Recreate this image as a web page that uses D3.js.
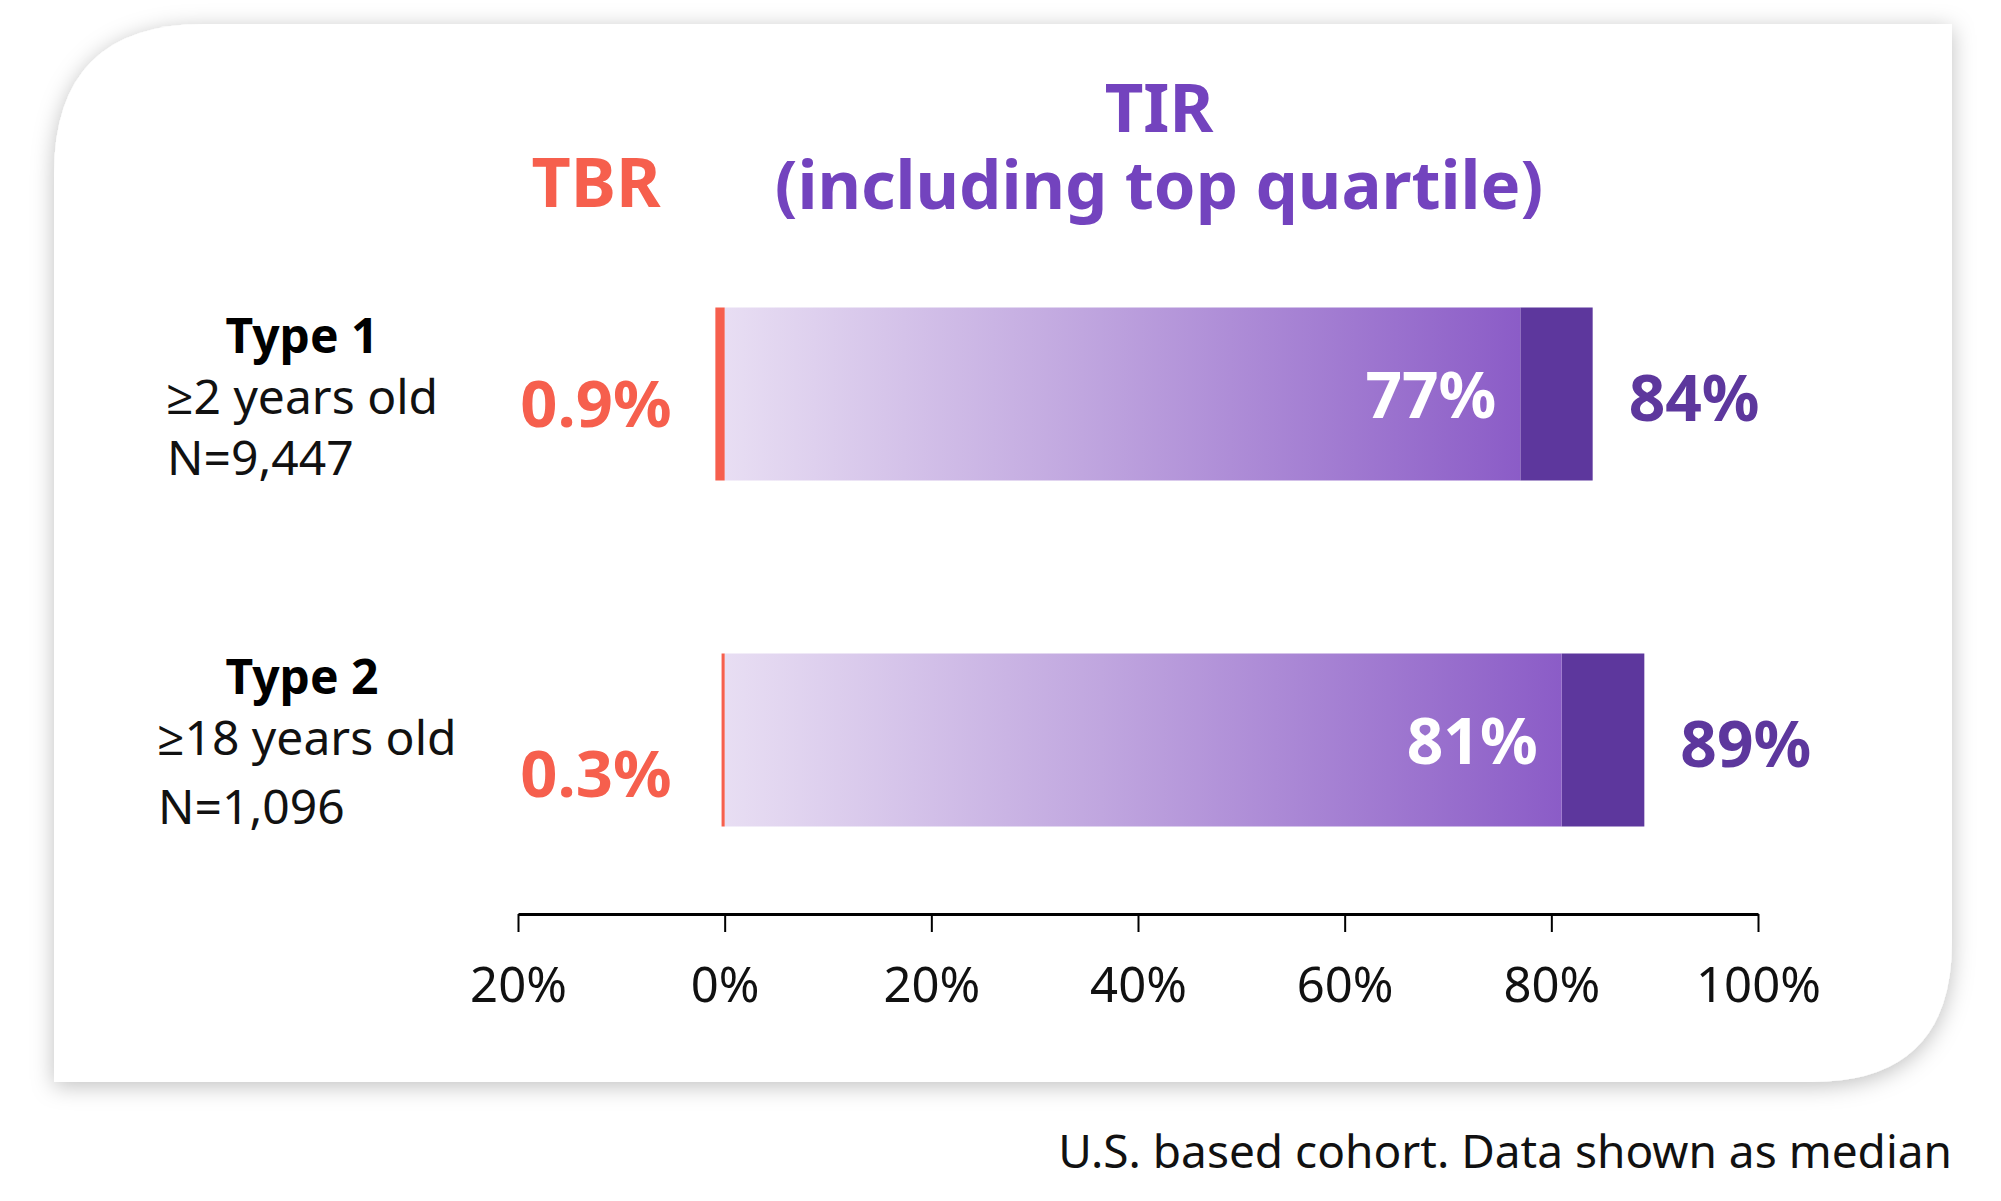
<!DOCTYPE html>
<html>
<head>
<meta charset="utf-8">
<script src="https://cdn.jsdelivr.net/npm/d3@7"></script>
<style>
  html, body { margin: 0; padding: 0; background: #fff; }
  svg { display: block; font-family: "Noto Sans", "Open Sans", sans-serif; }
</style>
</head>
<body>
<div class="graph-container"></div>
<script>
// DATA
const groups = ["Type 1", "Type 2"];
const groupAges = ["\u22652 years old", "\u226518 years old"];
const groupSizes = ["N=9,447", "N=1,096"];
const tbrValues = [0.9, 0.3];          // time below range, drawn to the left of 0
const tirValues = [77, 81];            // median TIR
const tirTopQuartile = [84, 89];       // TIR including top quartile
const axisTicks = [-20, 0, 20, 40, 60, 80, 100];

// GRAPH CONSTANTS
const w = 2001;
const h = 1201;
const red = "#f65f4d";
const purple = "#7343be";
const darkPurple = "#5d379d";
const tbrLabelDy = [33, 57];
const typeDy = [-41, -46];
const ageDy = [20, 15];
const sizeDy = [81, 84];
const subLeft = [166, 157];

const svg = d3.select("div.graph-container")
    .append("svg")
    .attr("width", w)
    .attr("height", h);

const defs = svg.append("defs");
const shadow = defs.append("filter")
    .attr("id", "shadow")
    .attr("x", "-5%").attr("y", "-5%")
    .attr("width", "110%").attr("height", "115%");
shadow.append("feDropShadow")
    .attr("dx", 0).attr("dy", 4)
    .attr("stdDeviation", 11)
    .attr("flood-color", "#000")
    .attr("flood-opacity", 0.25);

const grad = defs.append("linearGradient").attr("id", "tirGrad");
grad.append("stop").attr("offset", "0%").attr("stop-color", "#e8def3");
grad.append("stop").attr("offset", "45%").attr("stop-color", "#c0a6df");
grad.append("stop").attr("offset", "100%").attr("stop-color", "#8b5cc7");

// CARD (rounded top-left and bottom-right)
const cx0 = 54, cy0 = 24, cx1 = 1952, cy1 = 1082, r1 = 150, r2 = 140;
svg.append("path")
    .attr("d", `M${cx0},${cy0 + r1} Q${cx0},${cy0} ${cx0 + r1},${cy0}
                L${cx1},${cy0} L${cx1},${cy1 - r2}
                Q${cx1},${cy1} ${cx1 - r2},${cy1} L${cx0},${cy1} Z`)
    .attr("fill", "#fff")
    .attr("filter", "url(#shadow)");

// SCALES
const xScale = d3.scaleLinear()
    .domain([-20, 100])
    .range([518, 1758]);
const yScale = d3.scaleBand()
    .domain(groups)
    .range([221, 913])
    .paddingInner(0.5)
    .paddingOuter(0.25);

// HEADERS
svg.append("text")
    .attr("x", 596).attr("y", 207)
    .attr("text-anchor", "middle")
    .attr("font-size", 68).attr("font-weight", 700)
    .attr("fill", red)
    .text("TBR");
const tirTitle = svg.append("text")
    .attr("text-anchor", "middle")
    .attr("font-size", 67).attr("font-weight", 700)
    .attr("fill", purple);
tirTitle.append("tspan").attr("x", 1159).attr("y", 132).text("TIR");
tirTitle.append("tspan").attr("x", 1159).attr("y", 209).text("(including top quartile)");

// BARS
const rows = svg.selectAll("g.row")
    .data(groups)
    .enter()
    .append("g")
    .attr("class", "row");

rows.append("rect")
    .attr("x", (d, i) => xScale(tirValues[i]))
    .attr("y", d => yScale(d))
    .attr("width", (d, i) => xScale(tirTopQuartile[i]) - xScale(tirValues[i]))
    .attr("height", yScale.bandwidth())
    .attr("fill", darkPurple);

rows.append("rect")
    .attr("x", xScale(0))
    .attr("y", d => yScale(d))
    .attr("width", (d, i) => xScale(tirValues[i]) - xScale(0))
    .attr("height", yScale.bandwidth())
    .attr("fill", "url(#tirGrad)");

rows.append("rect")
    .attr("x", (d, i) => xScale(-tbrValues[i]))
    .attr("y", d => yScale(d))
    .attr("width", (d, i) => xScale(0) - xScale(-tbrValues[i]))
    .attr("height", yScale.bandwidth())
    .attr("fill", red);

// VALUE LABELS
const mid = d => yScale(d) + yScale.bandwidth() / 2;

rows.append("text")
    .attr("x", (d, i) => xScale(tirValues[i]) - 24)
    .attr("y", d => mid(d) + 24)
    .attr("text-anchor", "end")
    .attr("font-size", 64).attr("font-weight", 700)
    .attr("fill", "#fff")
    .text((d, i) => tirValues[i] + "%");

rows.append("text")
    .attr("x", (d, i) => xScale(tirTopQuartile[i]) + 36)
    .attr("y", d => mid(d) + 27)
    .attr("font-size", 64).attr("font-weight", 700)
    .attr("fill", darkPurple)
    .text((d, i) => tirTopQuartile[i] + "%");

rows.append("text")
    .attr("x", 596)
    .attr("y", (d, i) => mid(d) + tbrLabelDy[i])
    .attr("text-anchor", "middle")
    .attr("font-size", 65).attr("font-weight", 700)
    .attr("fill", red)
    .text((d, i) => tbrValues[i] + "%");

// ROW LABELS
rows.append("text")
    .attr("x", 302)
    .attr("y", (d, i) => mid(d) + typeDy[i])
    .attr("text-anchor", "middle")
    .attr("font-size", 48).attr("font-weight", 700)
    .attr("fill", "#000")
    .text(d => d);
rows.append("text")
    .attr("x", (d, i) => subLeft[i])
    .attr("y", (d, i) => mid(d) + ageDy[i])
    .attr("font-size", 48)
    .attr("fill", "#111")
    .text((d, i) => groupAges[i]);
rows.append("text")
    .attr("x", (d, i) => subLeft[i] + 1)
    .attr("y", (d, i) => mid(d) + sizeDy[i])
    .attr("font-size", 48)
    .attr("fill", "#111")
    .text((d, i) => groupSizes[i]);

// AXIS
const xAxis = d3.axisBottom(xScale)
    .tickValues(axisTicks)
    .tickFormat(d => Math.abs(d) + "%")
    .tickSizeInner(18)
    .tickSizeOuter(0)
    .tickPadding(35);

const axisG = svg.append("g")
    .attr("transform", `translate(0, ${yScale.range()[1] + 1})`)
    .call(xAxis);
axisG.select(".domain")
    .attr("stroke", "#000")
    .attr("stroke-width", 3);
axisG.selectAll(".tick line")
    .attr("stroke", "#000")
    .attr("stroke-width", 2);
axisG.selectAll(".tick text")
    .attr("font-family", "'Noto Sans', sans-serif")
    .attr("font-size", 49)
    .attr("fill", "#111");

// FOOTNOTE
svg.append("text")
    .attr("x", 1952).attr("y", 1168)
    .attr("text-anchor", "end")
    .attr("font-size", 46)
    .attr("fill", "#111")
    .text("U.S. based cohort. Data shown as median");
</script>
</body>
</html>
